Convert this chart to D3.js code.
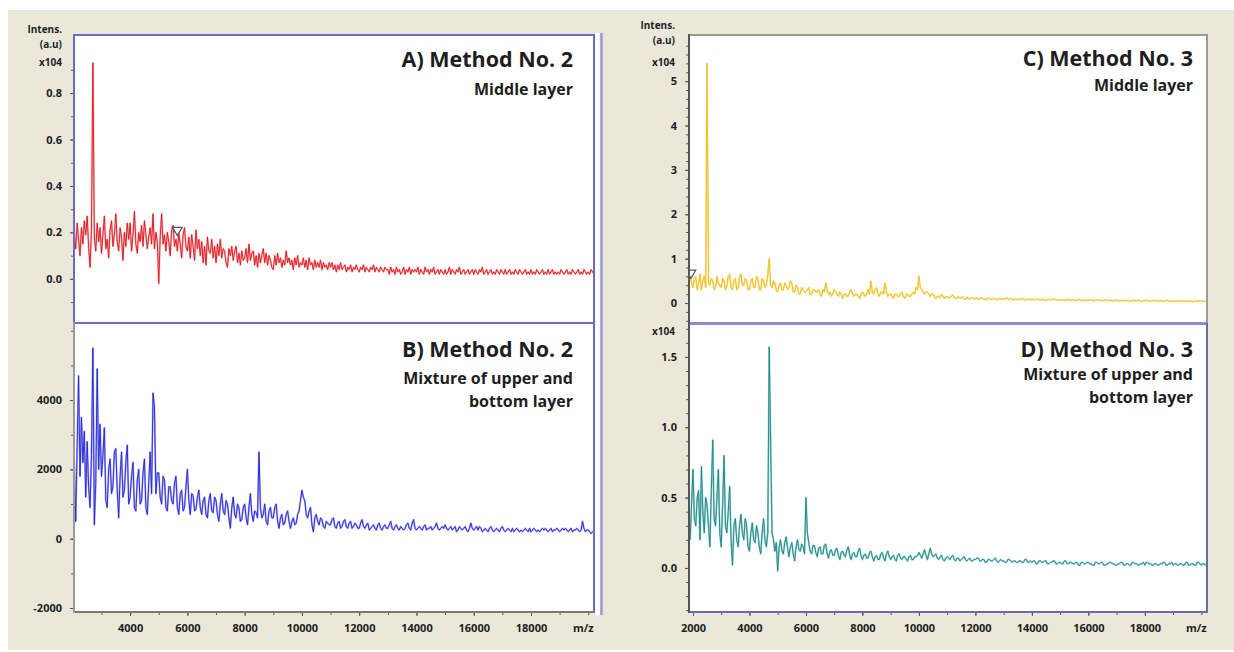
<!DOCTYPE html>
<html>
<head>
<meta charset="utf-8">
<script src="https://cdn.jsdelivr.net/npm/d3@7"></script>
<style>
  body { margin: 0; background: #fff; }
  svg text { font-family: "Open Sans", sans-serif; font-weight: bold; fill: #1e1e1e; }
</style>
</head>
<body>
<svg id="chart" width="1234" height="652"></svg>
<script>
// sampling grid of the spectra (m/z)
var leftMzStart = 2000, rightMzStart = 1900, mzStep = 50;

// A) Method No. 2, middle layer (x10^4), one row per 1000 m/z
var methodA = [
  0.30, 0.20, 0.13, 0.24, 0.17, 0.10, 0.22, 0.15, 0.25, 0.19, 0.27, 0.14, 0.05, 0.21, 0.93, 0.18, 0.12, 0.24, 0.16, 0.22,
  0.11, 0.19, 0.27, 0.13, 0.17, 0.09, 0.21, 0.25, 0.14, 0.19, 0.28, 0.16, 0.12, 0.22, 0.18, 0.08, 0.20, 0.14, 0.24, 0.17,
  0.24, 0.12, 0.19, 0.29, 0.15, 0.11, 0.20, 0.16, 0.23, 0.14, 0.25, 0.19, 0.13, 0.18, 0.22, 0.15, 0.28, 0.13, 0.20, 0.16,
  -0.02, 0.18, 0.28, 0.15, 0.19, 0.12, 0.20, 0.16, 0.10, 0.21, 0.23, 0.14, 0.17, 0.12, 0.20, 0.15, 0.09, 0.19, 0.22, 0.14,
  0.12, 0.18, 0.09, 0.19, 0.14, 0.08, 0.21, 0.13, 0.17, 0.10, 0.16, 0.07, 0.14, 0.06, 0.18, 0.12, 0.11, 0.17, 0.09, 0.14,
  0.07, 0.15, 0.10, 0.17, 0.09, 0.13, 0.12, 0.07, 0.05, 0.13, 0.10, 0.14, 0.08, 0.12, 0.14, 0.07, 0.11, 0.06, 0.12, 0.08,
  0.09, 0.13, 0.07, 0.15, 0.08, 0.11, 0.12, 0.06, 0.10, 0.05, 0.11, 0.07, 0.10, 0.13, 0.07, 0.11, 0.06, 0.10, 0.08, 0.05,
  0.04, 0.10, 0.06, 0.11, 0.07, 0.09, 0.05, 0.08, 0.06, 0.12, 0.07, 0.09, 0.06, 0.08, 0.04, 0.09, 0.06, 0.10, 0.05, 0.07,
  0.06, 0.09, 0.05, 0.08, 0.04, 0.09, 0.06, 0.07, 0.04, 0.08, 0.05, 0.07, 0.05, 0.08, 0.04, 0.07, 0.05, 0.06, 0.04, 0.07,
  0.05, 0.07, 0.04, 0.06, 0.03, 0.06, 0.04, 0.07, 0.04, 0.05, 0.06, 0.03, 0.05, 0.04, 0.06, 0.03, 0.05, 0.04, 0.06, 0.04,
  0.03, 0.05, 0.04, 0.06, 0.03, 0.05, 0.04, 0.03, 0.05, 0.04, 0.06, 0.03, 0.05, 0.04, 0.03, 0.05, 0.04, 0.03, 0.05, 0.04,
  0.04, 0.02, 0.05, 0.03, 0.04, 0.02, 0.05, 0.03, 0.04, 0.02, 0.03, 0.05, 0.02, 0.04, 0.03, 0.05, 0.02, 0.04, 0.03, 0.04,
  0.03, 0.05, 0.02, 0.04, 0.03, 0.02, 0.05, 0.03, 0.04, 0.02, 0.04, 0.03, 0.05, 0.02, 0.03, 0.04, 0.02, 0.04, 0.03, 0.02,
  0.04, 0.02, 0.03, 0.05, 0.02, 0.04, 0.03, 0.02, 0.04, 0.03, 0.05, 0.02, 0.03, 0.04, 0.02, 0.03, 0.04, 0.02, 0.03, 0.04,
  0.02, 0.04, 0.03, 0.02, 0.04, 0.03, 0.05, 0.02, 0.03, 0.04, 0.02, 0.03, 0.04, 0.02, 0.03, 0.02, 0.04, 0.03, 0.02, 0.04,
  0.03, 0.02, 0.04, 0.02, 0.03, 0.04, 0.02, 0.03, 0.02, 0.04, 0.03, 0.02, 0.04, 0.03, 0.02, 0.03, 0.04, 0.02, 0.03, 0.02,
  0.04, 0.02, 0.03, 0.02, 0.04, 0.03, 0.02, 0.03, 0.04, 0.02, 0.03, 0.02, 0.04, 0.02, 0.03, 0.04, 0.02, 0.03, 0.02, 0.03,
  0.02, 0.04, 0.03, 0.02, 0.03, 0.04, 0.02, 0.03, 0.02, 0.04, 0.03, 0.02, 0.03, 0.04, 0.02, 0.03, 0.02, 0.04, 0.03, 0.02,
  0.03, 0.02, 0.04, 0.03, 0.02
];

// B) Method No. 2, mixture of upper and bottom layer
var methodB = [
  1500, 2100, 500, 2700, 4700, 1800, 3500, 2200, 3100, 1200, 2800, 1500, 900, 2400, 5500, 400, 1600, 4900, 2000, 3300,
  1800, 2400, 3200, 1100, 900, 2000, 2300, 1300, 1500, 2500, 2600, 1400, 600, 1800, 2500, 1200, 1400, 2200, 2700, 1000,
  1200, 1800, 2200, 900, 800, 1700, 2000, 1000, 1100, 1900, 2300, 900, 700, 1600, 2500, 1300, 4200, 3800, 1300, 1900,
  1900, 1200, 1000, 1800, 1700, 900, 800, 1500, 1500, 1100, 1000, 1600, 1800, 900, 700, 1300, 1400, 800, 900, 1500,
  2000, 1100, 700, 1300, 1250, 800, 850, 1200, 1400, 900, 700, 1100, 1200, 700, 600, 1100, 1300, 800, 750, 1200,
  1100, 700, 500, 1000, 1300, 800, 700, 1100, 1000, 600, 300, 900, 1200, 700, 600, 1000, 900, 500, 550, 900,
  1000, 600, 400, 900, 1300, 700, 500, 800, 750, 600, 2500, 900, 600, 700, 1000, 500, 400, 800, 900, 600,
  600, 900, 1000, 500, 300, 600, 700, 400, 450, 700, 800, 500, 300, 500, 600, 400, 450, 700, 800, 1100,
  1400, 1200, 1100, 700, 600, 800, 900, 400, 200, 600, 700, 500, 400, 600, 550, 350, 300, 500, 450, 400,
  400, 550, 600, 350, 300, 450, 500, 300, 350, 500, 550, 350, 300, 450, 500, 300, 350, 450, 400, 300,
  300, 450, 550, 350, 300, 400, 450, 250, 300, 350, 400, 300, 250, 400, 450, 300, 250, 350, 400, 300,
  300, 400, 500, 300, 250, 350, 400, 300, 250, 350, 300, 250, 300, 400, 450, 300, 250, 450, 550, 300,
  250, 300, 350, 300, 250, 350, 400, 250, 300, 300, 350, 250, 300, 350, 450, 300, 250, 300, 350, 300,
  400, 300, 250, 300, 350, 250, 300, 350, 200, 250, 350, 300, 250, 300, 350, 250, 200, 300, 450, 300,
  250, 300, 350, 250, 350, 300, 200, 250, 300, 250, 200, 300, 350, 250, 200, 250, 300, 250, 200, 300,
  350, 250, 200, 250, 300, 250, 200, 300, 200, 250, 300, 250, 200, 250, 200, 250, 300, 250, 200, 300,
  200, 250, 300, 250, 200, 250, 200, 250, 300, 250, 300, 250, 200, 250, 300, 200, 250, 250, 300, 250,
  200, 250, 300, 250, 300, 250, 200, 250, 300, 200, 250, 250, 300, 250, 200, 250, 500, 300, 200, 250,
  250, 200, 150, 200, 200
];

// C) Method No. 3, middle layer (x10^4); first two points are 1900 and 1950
var methodC = [
  0.65, 0.45,
  0.35, 0.55, 0.60, 0.30, 0.45, 0.65, 0.30, 0.50, 0.60, 0.35, 5.40, 0.45, 0.40, 0.55, 0.50, 0.30, 0.35, 0.60, 0.45, 0.40,
  0.35, 0.55, 0.50, 0.30, 0.40, 0.60, 0.65, 0.35, 0.30, 0.50, 0.55, 0.30, 0.35, 0.60, 0.65, 0.40, 0.40, 0.55, 0.50, 0.30,
  0.30, 0.50, 0.55, 0.35, 0.35, 0.60, 0.55, 0.30, 0.30, 0.55, 0.50, 0.35, 0.40, 0.65, 1.00, 0.40, 0.35, 0.50, 0.45, 0.30,
  0.25, 0.40, 0.45, 0.30, 0.30, 0.45, 0.40, 0.30, 0.35, 0.50, 0.45, 0.25, 0.25, 0.40, 0.35, 0.20, 0.20, 0.35, 0.30, 0.25,
  0.25, 0.30, 0.35, 0.20, 0.20, 0.30, 0.30, 0.25, 0.25, 0.30, 0.20, 0.15, 0.30, 0.25, 0.45, 0.30, 0.20, 0.25, 0.15, 0.20,
  0.30, 0.25, 0.20, 0.15, 0.25, 0.20, 0.10, 0.20, 0.20, 0.15, 0.15, 0.25, 0.30, 0.20, 0.15, 0.20, 0.20, 0.15, 0.10, 0.20,
  0.25, 0.20, 0.15, 0.20, 0.30, 0.20, 0.50, 0.25, 0.20, 0.30, 0.35, 0.20, 0.15, 0.25, 0.25, 0.20, 0.45, 0.25, 0.15, 0.20,
  0.20, 0.15, 0.10, 0.20, 0.20, 0.15, 0.15, 0.20, 0.25, 0.15, 0.10, 0.20, 0.20, 0.15, 0.15, 0.20, 0.25, 0.20, 0.35, 0.30,
  0.60, 0.35, 0.30, 0.25, 0.20, 0.25, 0.25, 0.20, 0.15, 0.20, 0.20, 0.15, 0.10, 0.15, 0.15, 0.12, 0.20, 0.15, 0.10, 0.14,
  0.15, 0.12, 0.12, 0.16, 0.18, 0.12, 0.10, 0.13, 0.14, 0.10, 0.12, 0.14, 0.10, 0.08, 0.13, 0.11, 0.09, 0.12, 0.12, 0.09,
  0.10, 0.12, 0.08, 0.10, 0.12, 0.09, 0.10, 0.08, 0.08, 0.11, 0.11, 0.08, 0.09, 0.10, 0.10, 0.07, 0.08, 0.10, 0.10, 0.08,
  0.09, 0.10, 0.12, 0.08, 0.08, 0.10, 0.10, 0.07, 0.07, 0.09, 0.09, 0.07, 0.08, 0.10, 0.10, 0.07, 0.07, 0.09, 0.09, 0.07,
  0.08, 0.07, 0.07, 0.09, 0.09, 0.07, 0.07, 0.08, 0.08, 0.06, 0.06, 0.08, 0.08, 0.07, 0.07, 0.09, 0.09, 0.07, 0.06, 0.08,
  0.08, 0.06, 0.07, 0.07, 0.06, 0.08, 0.08, 0.06, 0.06, 0.07, 0.07, 0.05, 0.06, 0.08, 0.08, 0.06, 0.05, 0.07, 0.07, 0.05,
  0.06, 0.07, 0.07, 0.05, 0.05, 0.07, 0.07, 0.06, 0.06, 0.05, 0.05, 0.07, 0.07, 0.05, 0.05, 0.06, 0.06, 0.05, 0.05, 0.06,
  0.07, 0.05, 0.05, 0.06, 0.06, 0.05, 0.05, 0.06, 0.06, 0.04, 0.04, 0.06, 0.06, 0.05, 0.05, 0.06, 0.06, 0.04, 0.04, 0.05,
  0.05, 0.06, 0.06, 0.04, 0.04, 0.05, 0.05, 0.06, 0.06, 0.04, 0.04, 0.05, 0.05, 0.04, 0.04, 0.06, 0.06, 0.04, 0.04, 0.05,
  0.05, 0.04, 0.04, 0.05, 0.05, 0.04, 0.04, 0.05, 0.05, 0.04, 0.04, 0.05, 0.05, 0.03, 0.03, 0.05, 0.05, 0.04, 0.04, 0.05,
  0.05, 0.04, 0.04, 0.05, 0.04
];

// D) Method No. 3, mixture of upper and bottom layer (x10^4); first two points are 1900 and 1950
var methodD = [
  0.20, 0.45,
  0.70, 0.35, 0.30, 0.50, 0.55, 0.20, 0.72, 0.40, 0.25, 0.50, 0.45, 0.30, 0.15, 0.55, 0.91, 0.35, 0.30, 0.50, 0.70, 0.25,
  0.15, 0.45, 0.80, 0.30, 0.25, 0.40, 0.58, 0.20, 0.02, 0.30, 0.35, 0.20, 0.15, 0.30, 0.38, 0.25, 0.20, 0.35, 0.30, 0.15,
  0.12, 0.25, 0.32, 0.20, 0.18, 0.30, 0.25, 0.15, 0.10, 0.25, 0.35, 0.20, 0.15, 0.25, 1.57, 0.90, 0.25, 0.20, 0.12, 0.18,
  -0.02, 0.15, 0.20, 0.12, 0.10, 0.18, 0.22, 0.14, 0.08, 0.15, 0.18, 0.10, 0.05, 0.15, 0.20, 0.13, 0.12, 0.17, 0.15, 0.10,
  0.50, 0.25, 0.18, 0.12, 0.10, 0.16, 0.16, 0.11, 0.08, 0.14, 0.15, 0.10, 0.10, 0.16, 0.17, 0.10, 0.07, 0.12, 0.13, 0.09,
  0.09, 0.13, 0.14, 0.09, 0.06, 0.11, 0.12, 0.09, 0.08, 0.13, 0.15, 0.09, 0.06, 0.10, 0.11, 0.08, 0.08, 0.12, 0.14, 0.09,
  0.06, 0.09, 0.10, 0.07, 0.07, 0.11, 0.12, 0.08, 0.05, 0.08, 0.09, 0.06, 0.06, 0.10, 0.11, 0.07, 0.05, 0.10, 0.12, 0.08,
  0.06, 0.08, 0.09, 0.06, 0.05, 0.09, 0.10, 0.07, 0.06, 0.08, 0.08, 0.06, 0.05, 0.08, 0.09, 0.06, 0.06, 0.08, 0.08, 0.09,
  0.11, 0.09, 0.07, 0.10, 0.13, 0.09, 0.06, 0.10, 0.14, 0.10, 0.08, 0.09, 0.10, 0.07, 0.06, 0.08, 0.09, 0.06, 0.05, 0.07,
  0.08, 0.07, 0.06, 0.08, 0.09, 0.06, 0.05, 0.07, 0.07, 0.05, 0.06, 0.07, 0.08, 0.06, 0.05, 0.06, 0.07, 0.05, 0.05, 0.06,
  0.06, 0.07, 0.07, 0.05, 0.05, 0.06, 0.06, 0.04, 0.04, 0.06, 0.06, 0.05, 0.05, 0.06, 0.07, 0.05, 0.04, 0.05, 0.06, 0.05,
  0.05, 0.04, 0.04, 0.06, 0.06, 0.05, 0.04, 0.05, 0.05, 0.04, 0.04, 0.05, 0.05, 0.04, 0.04, 0.06, 0.06, 0.04, 0.04, 0.05,
  0.04, 0.05, 0.05, 0.03, 0.03, 0.05, 0.05, 0.04, 0.04, 0.05, 0.05, 0.03, 0.03, 0.04, 0.04, 0.05, 0.05, 0.03, 0.03, 0.04,
  0.04, 0.03, 0.03, 0.05, 0.05, 0.03, 0.03, 0.04, 0.04, 0.03, 0.03, 0.04, 0.04, 0.02, 0.02, 0.04, 0.04, 0.03, 0.03, 0.04,
  0.04, 0.03, 0.03, 0.02, 0.02, 0.04, 0.04, 0.03, 0.03, 0.04, 0.04, 0.02, 0.02, 0.03, 0.03, 0.04, 0.04, 0.03, 0.03, 0.02,
  0.02, 0.03, 0.03, 0.04, 0.04, 0.02, 0.02, 0.03, 0.03, 0.02, 0.02, 0.04, 0.04, 0.03, 0.03, 0.02, 0.02, 0.03, 0.03, 0.04,
  0.02, 0.04, 0.04, 0.03, 0.03, 0.02, 0.02, 0.03, 0.03, 0.02, 0.02, 0.03, 0.03, 0.04, 0.04, 0.02, 0.02, 0.03, 0.03, 0.04,
  0.02, 0.03, 0.03, 0.02, 0.02, 0.03, 0.03, 0.02, 0.02, 0.04, 0.04, 0.02, 0.02, 0.03, 0.03, 0.02, 0.02, 0.04, 0.04, 0.03,
  0.02, 0.03, 0.03, 0.02, 0.03
];

// tick labels
var leftXTicks = [4000, 6000, 8000, 10000, 12000, 14000, 16000, 18000];
var rightXTicks = [2000, 4000, 6000, 8000, 10000, 12000, 14000, 16000, 18000];
var yTicksA = [0.0, 0.2, 0.4, 0.6, 0.8];
var yTicksB = [-2000, 0, 2000, 4000];
var yTicksC = [0, 1, 2, 3, 4, 5];
var yTicksD = [0.0, 0.5, 1.0, 1.5];

// peak-picking markers [m/z, intensity]
var markersA = [[5650, 0.21]];
var markersC = [[1930, 0.68]];

var titleA = ['A) Method No. 2', 'Middle layer'];
var titleB = ['B) Method No. 2', 'Mixture of upper and', 'bottom layer'];
var titleC = ['C) Method No. 3', 'Middle layer'];
var titleD = ['D) Method No. 3', 'Mixture of upper and', 'bottom layer'];

var svg = d3.select('#chart');

svg.append('rect')
  .attr('x', 8).attr('y', 10).attr('width', 1226).attr('height', 640)
  .style('fill', '#ebe8da');

var xLeft = d3.scaleLinear().domain([2040, 20200]).range([74, 594]);
var xRight = d3.scaleLinear().domain([1860, 20200]).range([689, 1207]);

// plain hyphen for negative tick labels
var fmtInt = function(d) { return d3.format('d')(d).replace('\u2212', '-'); };

var panels = [
  { id: 'a', x: xLeft, y: d3.scaleLinear().domain([-0.19, 1.05]).range([323, 35]),
    start: leftMzStart, values: methodA, color: '#e0141c', halo: '#f7b4b7',
    yTicks: yTicksA, yMinor: d3.range(-0.1, 1.0, 0.1), fmt: d3.format('.1f'),
    title: titleA, titleRight: 21, titleLines: [32, 60],
    edges: ['#6c6cc4', '#6c6cc4', '#6c6cc4', '#6c6cc4'],
    markers: markersA, unit: true, labelX: 62, heads: [29, 44, 62] },
  { id: 'b', x: xLeft, y: d3.scaleLinear().domain([-2115, 6223]).range([612, 323]),
    start: leftMzStart, values: methodB, color: '#2222d8', halo: '#aeaef4',
    yTicks: yTicksB, yMinor: d3.range(-2000, 6001, 1000), fmt: fmtInt,
    title: titleB, titleRight: 21, titleLines: [34, 61, 84],
    edges: ['#6c6cc4', '#6c6cc4', '#7a7a7a', '#9a9a9a'],
    xTicks: leftXTicks, labelX: 62 },
  { id: 'c', x: xRight, y: d3.scaleLinear().domain([-0.45, 6.04]).range([323, 35]),
    start: rightMzStart, values: methodC, color: '#efbd1c', halo: '#f9e39a',
    yTicks: yTicksC, yMinor: d3.range(-0.4, 6.0, 0.2), fmt: fmtInt,
    title: titleC, titleRight: 14, titleLines: [31, 56],
    edges: ['#9a9a9a', '#9a9a9a', '#8c8cd0', '#555'],
    markers: markersC, unit: true, labelX: 675, heads: [25, 40, 62] },
  { id: 'd', x: xRight, y: d3.scaleLinear().domain([-0.313, 1.734]).range([612, 324]),
    start: rightMzStart, values: methodD, color: '#1a8684', halo: '#9dd3d0',
    yTicks: yTicksD, yMinor: d3.range(-0.3, 1.71, 0.1), fmt: d3.format('.1f'),
    title: titleD, titleRight: 14, titleLines: [33, 56, 79],
    edges: ['#8c8cd0', '#6a6ab0', '#6a6ab0', '#555'],
    xTicks: rightXTicks, labelX: 675, unitOnly: 331 }
];

panels.forEach(drawPanel);

// double edge to the right of the left column
svg.append('rect').attr('x', 595.5).attr('y', 33).attr('width', 4).attr('height', 582)
  .style('fill', '#ffffff');
svg.append('line')
  .attr('x1', 601.5).attr('x2', 601.5).attr('y1', 33).attr('y2', 615)
  .style('stroke', '#9a9ad8').style('stroke-width', 2.5);

function drawPanel(p) {
  var x = p.x, y = p.y,
      x0 = x.range()[0], x1 = x.range()[1],
      y0 = y.range()[1], y1 = y.range()[0],
      g = svg.append('g').attr('class', 'panel-' + p.id);

  g.append('rect')
    .attr('x', x0).attr('y', y0).attr('width', x1 - x0).attr('height', y1 - y0)
    .style('fill', '#ffffff');

  svg.append('clipPath').attr('id', 'clip-' + p.id)
    .append('rect')
      .attr('x', x0).attr('y', y0).attr('width', x1 - x0).attr('height', y1 - y0);

  var plot = g.append('g').attr('clip-path', 'url(#clip-' + p.id + ')');

  var line = d3.line()
    .x(function(d, i) { return x(p.start + i * mzStep); })
    .y(function(d) { return y(d); });

  // soft halo under the trace, then the trace itself
  [[p.halo, 1.9], [p.color, 0.9]].forEach(function(s) {
    plot.append('path')
      .datum(p.values)
      .attr('d', line)
      .style('fill', 'none')
      .style('stroke', s[0])
      .style('stroke-width', s[1])
      .style('stroke-linejoin', 'round');
  });

  if (p.markers) {
    plot.selectAll('path.marker')
      .data(p.markers)
      .enter().append('path')
        .attr('class', 'marker')
        .attr('d', d3.symbol(d3.symbolTriangle, 40))
        .attr('transform', function(d) {
          return 'translate(' + x(d[0]) + ',' + y(d[1]) + ') rotate(180)';
        })
        .style('fill', '#ffffff')
        .style('stroke', '#55556a')
        .style('stroke-width', 1.2);
  }

  // y axis: minor then major ticks
  var yMinor = d3.axisLeft(y).tickValues(p.yMinor).tickFormat('').tickSize(3).tickSizeOuter(0);
  var yMajor = d3.axisLeft(y).tickValues(p.yTicks).tickFormat(p.fmt).tickSize(4).tickPadding(8).tickSizeOuter(0);
  [yMinor, yMajor].forEach(function(axis) {
    var a = g.append('g').attr('transform', 'translate(' + x0 + ',0)').call(axis);
    a.select('.domain').remove();
    a.selectAll('line').style('stroke', '#555');
    a.selectAll('text').style('font-size', '11px').style('font-family', '"Open Sans", sans-serif');
  });

  if (p.xTicks) {
    var xMinor = d3.axisBottom(x).tickValues(d3.range(3000, 20001, 1000)).tickFormat('').tickSize(3).tickSizeOuter(0);
    var xMajor = d3.axisBottom(x).tickValues(p.xTicks).tickFormat(d3.format('d')).tickSize(4).tickPadding(8).tickSizeOuter(0);
    [xMinor, xMajor].forEach(function(axis) {
      var a = g.append('g').attr('transform', 'translate(0,' + y1 + ')').call(axis);
      a.select('.domain').remove();
      a.selectAll('line').style('stroke', '#555');
      a.selectAll('text').style('font-size', '11px').style('font-family', '"Open Sans", sans-serif');
    });
    g.append('text')
      .attr('x', x1 - 21).attr('y', 632)
      .style('font-size', '11px')
      .text('m/z');
  }

  // frame edges: top, right, bottom, left
  var edges = [
    [x0, y0, x1, y0], [x1, y0, x1, y1], [x0, y1, x1, y1], [x0, y0, x0, y1]
  ];
  g.selectAll('line.edge')
    .data(edges)
    .enter().append('line')
      .attr('class', 'edge')
      .attr('x1', function(d) { return d[0]; })
      .attr('y1', function(d) { return d[1]; })
      .attr('x2', function(d) { return d[2]; })
      .attr('y2', function(d) { return d[3]; })
      .style('stroke', function(d, i) { return p.edges[i]; })
      .style('stroke-width', 2)
      .style('stroke-linecap', 'square');

  // intensity heading
  if (p.unit) {
    g.selectAll('text.head')
      .data(['Intens.', '(a.u)', 'x104'])
      .enter().append('text')
        .attr('class', 'head')
        .attr('x', p.labelX)
        .attr('y', function(d, i) { return p.heads[i]; })
        .attr('dy', '0.35em')
        .attr('text-anchor', 'end')
        .style('font-size', '10px')
        .text(function(d) { return d; });
  }
  if (p.unitOnly) {
    g.append('text')
      .attr('x', p.labelX).attr('y', p.unitOnly).attr('dy', '0.35em')
      .attr('text-anchor', 'end')
      .style('font-size', '10px')
      .text('x104');
  }

  // panel title
  g.selectAll('text.title')
    .data(p.title)
    .enter().append('text')
      .attr('class', 'title')
      .attr('x', x1 - p.titleRight)
      .attr('y', function(d, i) { return y0 + p.titleLines[i]; })
      .attr('text-anchor', 'end')
      .style('font-size', function(d, i) { return i === 0 ? '21.5px' : '16px'; })
      .text(function(d) { return d; });
}
</script>
</body>
</html>
